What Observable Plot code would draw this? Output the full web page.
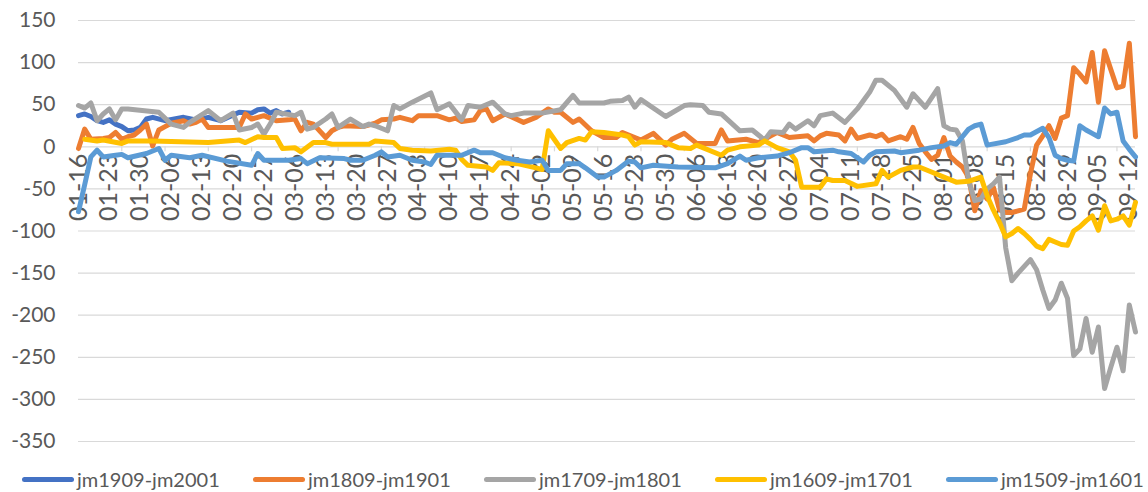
<!DOCTYPE html>
<html><head><meta charset="utf-8">
<script src="https://cdn.jsdelivr.net/npm/d3@7"></script>
<script src="https://cdn.jsdelivr.net/npm/@observablehq/plot@0.6"></script>
<style>
body{margin:0;background:#fff;font-family:Lato,"Open Sans",sans-serif;overflow:hidden;}
#legend{position:relative;height:37px;width:1148px;overflow:hidden;}
.item{position:absolute;top:12px;display:flex;align-items:center;height:24px;white-space:nowrap;}
.sw{width:52px;height:5px;border-radius:3px;margin-right:3px;flex:none;}
.lb{font-size:20px;color:#595959;line-height:24px;white-space:nowrap;}
</style></head><body><div id="chart"></div><div id="legend"></div>
<script>
const tickLabels = ["01-16","01-23","01-30","02-06","02-13","02-20","02-27","03-06","03-13","03-20","03-27","04-03","04-10","04-17","04-24","05-02","05-09","05-16","05-23","05-30","06-06","06-13","06-20","06-27","07-04","07-11","07-18","07-25","08-01","08-08","08-15","08-22","08-29","09-05","09-12"];
const yTicks = [-350,-300,-250,-200,-150,-100,-50,0,50,100,150];
const seriesNames = ["jm1909-jm2001","jm1809-jm1901","jm1709-jm1801","jm1609-jm1701","jm1509-jm1601"];
const seriesColors = ["#4472C4","#ED7D31","#A5A5A5","#FFC000","#5B9BD5"];

const jm1909 = [[0,37],[1,39],[2,36],[3,31],[4,29],[5,32],[6,27],[7,24],[8,19],[9,20],[10,23],[11,33],[12,35],[14,31],[17,35],[19,32],[21,35],[23,31],[26,41],[28,40],[29,44],[30,45],[31,40],[32,43],[33,39],[34,41]];
const jm1809 = [[0,-2],[1,21],[2,9],[4,10],[5,11],[6,17],[7,9],[8,12],[9,14],[10,20],[11,27],[12,1],[13,20],[14,24],[15,28],[17,31],[18,27],[19,29],[20,33],[21,23],[26,23],[27,39],[28,33],[29,35],[30,37],[32,31],[34,32],[35,33],[36,19],[37,29],[38,27],[40,11],[41,19],[42,23],[43,25],[46,24],[48,28],[49,32],[51,33],[52,35],[54,31],[55,37],[58,37],[60,32],[61,34],[62,30],[64,32],[65,43],[66,45],[67,31],[69,39],[72,29],[74,35],[76,45],[77,41],[78,41],[80,29],[81,33],[83,19],[85,11],[87,11],[88,17],[90,11],[91,8],[93,16],[95,2],[96,9],[98,16],[100,4],[103,4],[104,20],[105,7],[108,9],[110,5],[112,13],[113,17],[115,11],[118,13],[119,7],[120,13],[121,16],[123,14],[124,7],[125,21],[126,10],[128,14],[129,12],[130,15],[131,7],[133,12],[134,9],[135,23],[136,4],[137,-6],[138,-15],[139,-10],[140,11],[141,-11],[142,-18],[143,-24],[144,-36],[145,-76],[146,-52],[147,-62],[148,-48],[149,-75],[150,-78],[151,-78],[152,-76],[153,-74],[154,-32],[155,2],[156,13],[157,25],[158,10],[159,34],[160,37],[161,94],[162,86],[163,77],[164,112],[165,53],[166,114],[167,92],[168,70],[169,72],[170,123],[171,12]];
const jm1709 = [[0,49],[1,46],[2,52],[3,31],[4,39],[5,45],[6,32],[7,45],[8,45],[13,41],[15,27],[17,23],[18,29],[21,43],[23,31],[25,40],[26,20],[28,23],[29,27],[30,15],[31,27],[32,41],[35,37],[36,41],[37,21],[38,23],[40,33],[41,39],[42,23],[44,33],[46,24],[47,27],[48,25],[50,19],[51,49],[52,45],[54,53],[57,64],[58,44],[60,51],[62,32],[63,49],[65,47],[67,53],[69,39],[70,37],[72,40],[75,40],[78,44],[80,61],[81,52],[85,52],[86,54],[88,55],[89,59],[90,47],[91,56],[95,36],[98,49],[99,50],[101,49],[102,41],[104,39],[107,19],[109,20],[111,8],[112,18],[114,17],[115,27],[116,21],[118,31],[119,25],[120,37],[122,40],[124,29],[126,45],[128,65],[129,79],[130,79],[132,67],[134,47],[135,63],[137,47],[139,69],[140,25],[141,21],[142,20],[143,7],[144,-40],[145,-64],[146,-62],[147,-50],[148,-44],[149,-36],[150,-120],[151,-159],[152,-150],[153,-142],[154,-134],[155,-146],[156,-170],[157,-192],[158,-182],[159,-162],[160,-180],[161,-248],[162,-240],[163,-204],[164,-244],[165,-214],[166,-287],[167,-262],[168,-238],[169,-266],[170,-188],[171,-220]];
const jm1609 = [[1,9],[3,7],[4,8],[7,4],[8,7],[12,7],[21,5],[26,8],[27,5],[29,12],[30,11],[32,11],[33,-2],[35,-1],[36,-6],[38,5],[40,5],[41,3],[44,3],[47,3],[48,7],[51,5],[52,-2],[54,-4],[57,-5],[60,-3],[61,-4],[62,-15],[63,-22],[66,-24],[67,-28],[68,-19],[71,-20],[74,-25],[75,-27],[76,19],[78,-2],[79,5],[81,10],[82,8],[83,18],[85,17],[88,14],[89,12],[90,2],[91,6],[95,5],[97,-1],[99,-2],[100,2],[104,-10],[105,-4],[107,0],[110,2],[111,7],[113,-1],[115,-6],[116,-16],[117,-48],[120,-48],[121,-38],[122,-40],[124,-40],[126,-47],[129,-44],[130,-28],[131,-36],[133,-28],[135,-24],[136,-24],[138,-30],[140,-36],[142,-42],[144,-41],[146,-36],[147,-58],[148,-75],[149,-90],[150,-107],[151,-103],[152,-97],[153,-103],[154,-110],[155,-118],[156,-121],[157,-110],[158,-113],[159,-116],[160,-117],[161,-100],[162,-95],[163,-88],[164,-82],[165,-99],[166,-70],[167,-88],[168,-86],[169,-82],[170,-93],[171,-66]];
const jm1509 = [[0,-77],[1,-45],[2,-12],[3,-4],[4,-12],[6,-10],[7,-9],[8,-13],[11,-8],[13,-2],[14,-16],[15,-10],[18,-13],[20,-10],[24,-17],[28,-22],[29,-8],[30,-16],[34,-16],[36,-14],[37,-20],[39,-13],[43,-14],[44,-16],[46,-16],[48,-10],[49,-6],[50,-12],[52,-10],[54,-16],[56,-18],[57,-21],[58,-10],[62,-10],[64,-4],[65,-7],[67,-7],[69,-13],[71,-16],[73,-18],[75,-16],[76,-28],[78,-28],[79,-20],[81,-20],[82,-25],[84,-36],[85,-36],[87,-28],[89,-17],[90,-18],[91,-25],[93,-22],[97,-24],[103,-25],[105,-20],[107,-11],[108,-16],[110,-13],[113,-11],[115,-7],[117,-1],[118,-1],[119,-6],[122,-4],[123,-6],[125,-8],[127,-18],[128,-10],[129,-6],[132,-5],[133,-7],[136,-4],[138,-1],[140,1],[141,5],[142,3],[144,21],[145,25],[146,27],[147,2],[150,6],[152,11],[153,14],[154,14],[156,22],[157,11],[158,-10],[159,-14],[160,-16],[161,-17],[162,25],[163,20],[164,16],[165,12],[166,46],[167,39],[168,41],[169,7],[170,-3],[171,-12]];

const seriesData = [jm1909, jm1809, jm1709, jm1609, jm1509];
const labelIdx = tickLabels.map((d, k) => ({i: k * 5, t: d}));
const tickIdx = d3.range(0, 172, 7);

const lineMarks = seriesData.map((pts, s) =>
  Plot.line(pts, {x: d => d[0], y: d => d[1], stroke: seriesColors[s], strokeWidth: 5, strokeLinejoin: "round", strokeLinecap: "round"})
);

const chart = Plot.plot({
  width: 1148, height: 455,
  marginLeft: 78, marginRight: 13, marginTop: 20, marginBottom: 14,
  style: {fontFamily: "Lato, 'Open Sans', sans-serif", fontSize: "21px", color: "#595959", background: "#fff"},
  x: {domain: [0, 171], axis: null},
  y: {domain: [-350, 150], ticks: yTicks, tickSize: 0, tickPadding: 23, tickFormat: d => String(d), label: null},
  marks: [
    Plot.ruleY(yTicks, {stroke: "#d9d9d9", strokeWidth: 1.2}),
    Plot.ruleX(tickIdx, {x: d => d, y1: 0, y2: -6, stroke: "#d9d9d9", strokeWidth: 1.2}),
    Plot.text(labelIdx, {x: "i", y: () => 0, text: "t", rotate: -90, textAnchor: "end", dy: 7, fontSize: 25, fill: "#595959"}),
    ...lineMarks
  ]
});
document.getElementById("chart").appendChild(chart);

const legend = document.getElementById("legend");
seriesNames.forEach((n, k) => {
  const it = document.createElement("div");
  it.className = "item";
  it.style.left = (22 + k * 231) + "px";
  it.innerHTML = `<div class="sw" style="background:${seriesColors[k]}"></div><span class="lb">${n}</span>`;
  legend.appendChild(it);
});
</script>
</body></html>
